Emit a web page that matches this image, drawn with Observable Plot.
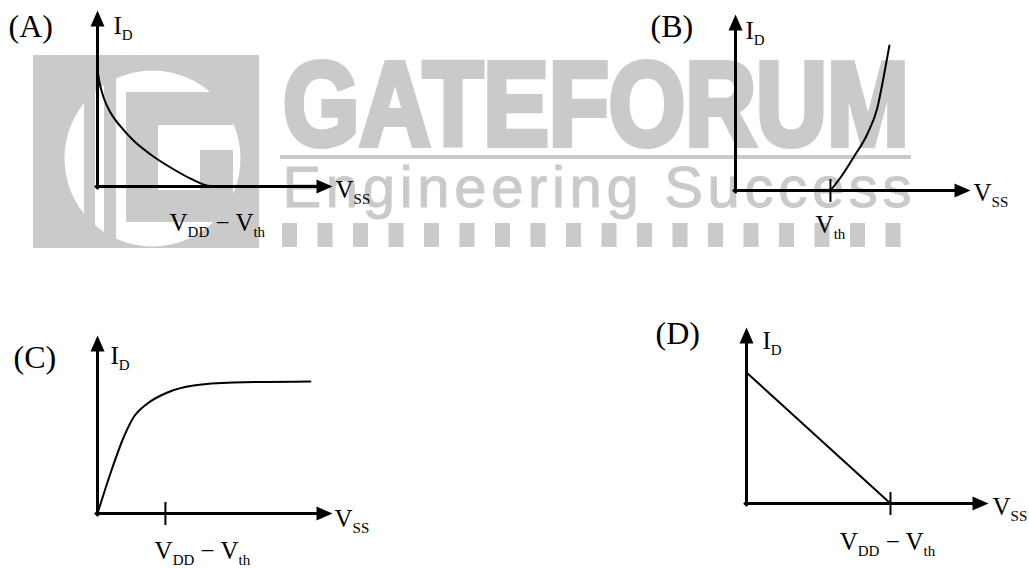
<!DOCTYPE html>
<html>
<head>
<meta charset="utf-8">
<script src="https://cdn.jsdelivr.net/npm/d3@7"></script>
<script src="https://cdn.jsdelivr.net/npm/@observablehq/plot@0.6"></script>
<style>
html, body { margin: 0; padding: 0; background: #fff; }
#chart { position: relative; width: 1029px; height: 568px; overflow: hidden; background: #fff; }
#chart svg { position: absolute; left: 0; top: 0; }
</style>
</head>
<body>
<div id="chart"></div>
<script>
// ---------------- data ----------------
const panelNames = ["(A)", "(B)", "(C)", "(D)"];
const yAxisLabel = "I_{D}";
const xAxisLabel = "V_{SS}";
const tickLabels = ["V_{DD} − V_{th}", "V_{th}", "V_{DD} − V_{th}", "V_{DD} − V_{th}"];
const tickValues = [4.8, 4.04, 2.89, 5.95];
const tickShown = [false, true, true, true];
const axisMax = 10;

// Panel A: decaying curve reaching zero at V_DD - V_th
const curveAx = [0, 0.085, 0.26, 0.55, 0.98, 1.53, 2.26, 3.11, 3.96, 4.81, 6.1];
const curveAy = [6.59, 5.91, 5.06, 4.2, 3.41, 2.61, 1.82, 1.08, 0.45, 0.03, 0];
// Panel B: rising curve from V_th
const curveBx = [4.04, 4.47, 5.02, 5.62, 6.04, 6.30, 6.55];
const curveBy = [0, 0.74, 1.88, 3.24, 4.72, 6.42, 8.24];
// Panel C: saturating curve
const curveCx = [0, 0.55, 1.11, 1.53, 2.13, 2.98, 4.09, 5.79, 9.06];
const curveCy = [0, 2.25, 4.27, 5.39, 6.18, 6.80, 7.19, 7.36, 7.42];
// Panel D: straight line
const curveDx = [0, 5.95];
const curveDy = [7.44, 0];

const wmTitle = "GATEFORUM";
const wmSubtitle = "Engineering Success";

// ---------------- layout & style ----------------
const SERIF = "'Liberation Serif', 'Times New Roman', serif";
const layout = [
  {ox: 97,  oy: 186, tx: 332, ty: 10,  curve: "monotone-x",
   name: {dx: -89, dy: 26}, yl: {dx: 16, dy: 23}, xl: {dx: 3, dy: 11}, tl: {dx: 7, dy: 44}},
  {ox: 735, oy: 190, tx: 970, ty: 14,  curve: "monotone-x",
   name: {dx: -85, dy: 22}, yl: {dx: 10, dy: 24}, xl: {dx: 3, dy: 10}, tl: {dx: 0, dy: 42}},
  {ox: 97,  oy: 513, tx: 332, ty: 335, curve: "monotone-x",
   name: {dx: -84, dy: 32}, yl: {dx: 13, dy: 28}, xl: {dx: 2, dy: 13}, tl: {dx: 37, dy: 45}},
  {ox: 746, oy: 503, tx: 988, ty: 327, curve: "linear",
   name: {dx: -91, dy: 16}, yl: {dx: 16, dy: 21}, xl: {dx: 4, dy: 11}, tl: {dx: -3, dy: 46}}
];

const arrowUp = {draw(ctx) { ctx.moveTo(0, 0); ctx.lineTo(-7, 16); ctx.lineTo(7, 16); ctx.closePath(); }};
const arrowRight = {draw(ctx) { ctx.moveTo(0, 0); ctx.lineTo(-16, -7); ctx.lineTo(-16, 7); ctx.closePath(); }};

function subscriptify(svg, subSize, shift) {
  d3.select(svg).selectAll("text").each(function () {
    const t = this.textContent;
    if (!t.includes("_{")) return;
    const parts = [];
    const re = /_\{([^}]*)\}/g;
    let last = 0, m;
    while ((m = re.exec(t))) {
      if (m.index > last) parts.push({s: t.slice(last, m.index), sub: false});
      parts.push({s: m[1], sub: true});
      last = re.lastIndex;
    }
    if (last < t.length) parts.push({s: t.slice(last), sub: false});
    const sel = d3.select(this);
    sel.text(null);
    let down = false;
    for (const p of parts) {
      const ts = sel.append("tspan").text(p.s);
      if (p.sub) {
        ts.attr("font-size", subSize);
        if (!down) { ts.attr("dy", shift); down = true; }
      } else if (down) {
        ts.attr("dy", -shift); down = false;
      }
    }
  });
}

const chart = document.getElementById("chart");

// ---------------- watermark (decoration) ----------------
const WM = "#cacaca";
const logoBack = [{x1: 33, x2: 259, y1: 55, y2: 248}];
const logoFront = [
  {x1: 84, x2: 95, y1: 66, y2: 244, fill: WM},
  {x1: 104, x2: 116, y1: 66, y2: 244, fill: WM},
  {x1: 126, x2: 233, y1: 92, y2: 222, fill: WM},
  {x1: 158, x2: 200, y1: 125, y2: 190, fill: "white"},
  {x1: 158, x2: 233, y1: 125, y2: 150, fill: "white"},
  {x1: 280, x2: 911, y1: 155, y2: 159, fill: WM}
];
const blocks = d3.range(18).map(i => ({x1: 282 + i * 35.5, x2: 297 + i * 35.5, y1: 223, y2: 247}));
const TITLE_STROKE = 6;

const wmSvg = Plot.plot({
  width: 1029, height: 568,
  x: {domain: [0, 1029], range: [0, 1029], axis: null},
  y: {domain: [0, 568], range: [0, 568], axis: null},
  style: {background: "transparent"},
  marks: [
    Plot.rect(logoBack, {x1: "x1", x2: "x2", y1: "y1", y2: "y2", fill: WM}),
    Plot.dot([{x: 152, y: 158}], {x: "x", y: "y", r: 88, fill: "white", stroke: "none"}),
    Plot.rect(logoFront, {x1: "x1", x2: "x2", y1: "y1", y2: "y2", fill: "fill"}),
    Plot.rect(blocks, {x1: "x1", x2: "x2", y1: "y1", y2: "y2", fill: WM}),
    Plot.text([wmTitle], {x: 280 + TITLE_STROKE / 2, y: 147 - TITLE_STROKE / 2, text: d => d, textAnchor: "start", lineAnchor: "bottom",
      fontSize: 118, fontWeight: "bold", fontFamily: "'Liberation Sans', Arial, sans-serif",
      fill: WM, stroke: WM, strokeWidth: TITLE_STROKE, strokeLinejoin: "miter"}),
    Plot.text([wmSubtitle], {x: 282, y: 206, text: d => d, textAnchor: "start", lineAnchor: "bottom",
      fontSize: 58, fontFamily: "'Liberation Sans', Arial, sans-serif", fill: WM, stroke: WM, strokeWidth: 1})
  ]
});
chart.append(wmSvg);
// fit the watermark words to their width (horizontal squeeze / letter spacing)
d3.select(wmSvg).selectAll("text").each(function () {
  if (this.textContent === wmTitle) {
    const len = this.getComputedTextLength() + TITLE_STROKE;
    const k = 631 / len;
    const g = this.parentNode;
    g.setAttribute("transform", `${g.getAttribute("transform") || ""} translate(280,0) scale(${k},1) translate(-280,0)`);
  } else if (this.textContent === wmSubtitle) {
    const len = this.getComputedTextLength();
    const n = this.textContent.length;
    const ls = (629 - len) / (n - 1);
    this.style.letterSpacing = `${ls}px`;
  }
});

// ---------------- panels ----------------
const curves = [[curveAx, curveAy], [curveBx, curveBy], [curveCx, curveCy], [curveDx, curveDy]];

layout.forEach((L, k) => {
  const [cx, cy] = curves[k];
  const pts = cx.map((x, i) => ({x, y: cy[i]}));
  const textBase = {text: d => d, textAnchor: "start", lineAnchor: "bottom", fontSize: 25, fontFamily: SERIF, fill: "black"};
  const marks = [
    Plot.arrow(
      [{x1: 0, y1: 0, x2: axisMax, y2: 0}, {x1: 0, y1: 0, x2: 0, y2: axisMax}],
      {x1: "x1", y1: "y1", x2: "x2", y2: "y2", stroke: "black", strokeWidth: 3, headLength: 0, insetEnd: 10, insetStart: -1.5}
    ),
    Plot.dot([{x: axisMax, y: 0}], {x: "x", y: "y", symbol: arrowRight, fill: "black", stroke: "none"}),
    Plot.dot([{x: 0, y: axisMax}], {x: "x", y: "y", symbol: arrowUp, fill: "black", stroke: "none"}),
    Plot.line(pts, {x: "x", y: "y", curve: L.curve, stroke: "black", strokeWidth: 2})
  ];
  if (tickShown[k]) {
    marks.push(Plot.ruleX([tickValues[k]], {x: d => d, y1: 0, y2: 0, insetTop: -11, insetBottom: -12, stroke: "black", strokeWidth: 2}));
  }
  marks.push(
    Plot.text([panelNames[k]], {...textBase, x: 0, y: axisMax, dx: L.name.dx, dy: L.name.dy, fontSize: 32}),
    Plot.text([yAxisLabel], {...textBase, x: 0, y: axisMax, dx: L.yl.dx, dy: L.yl.dy}),
    Plot.text([xAxisLabel], {...textBase, x: axisMax, y: 0, dx: L.xl.dx, dy: L.xl.dy}),
    Plot.text([tickLabels[k]], {...textBase, x: tickValues[k], y: 0, dx: L.tl.dx, dy: L.tl.dy, textAnchor: "middle"})
  );
  const svg = Plot.plot({
    width: 1029, height: 568,
    x: {domain: [0, axisMax], range: [L.ox, L.tx], axis: null},
    y: {domain: [0, axisMax], range: [L.oy, L.ty], axis: null},
    style: {background: "transparent"},
    marks
  });
  subscriptify(svg, 15, 6);
  chart.append(svg);
});
</script>
</body>
</html>
